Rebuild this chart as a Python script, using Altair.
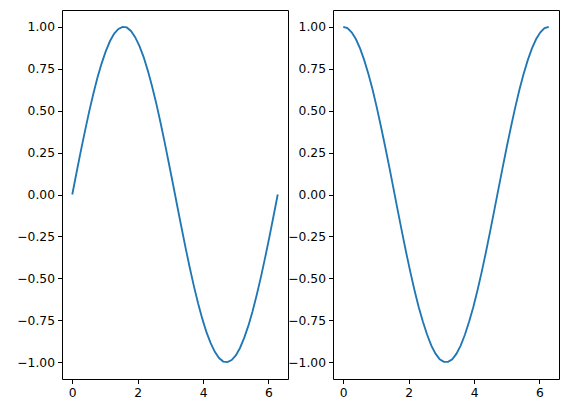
import altair as alt
import pandas as pd

xs = [0.000, 0.128, 0.256, 0.385, 0.513, 0.641, 0.769, 0.898, 1.026, 1.154,
      1.282, 1.411, 1.539, 1.667, 1.795, 1.923, 2.052, 2.180, 2.308, 2.436,
      2.565, 2.693, 2.821, 2.949, 3.078, 3.206, 3.334, 3.462, 3.590, 3.719,
      3.847, 3.975, 4.103, 4.232, 4.360, 4.488, 4.616, 4.744, 4.873, 5.001,
      5.129, 5.257, 5.386, 5.514, 5.642, 5.770, 5.899, 6.027, 6.155, 6.283]
sin_vals = [0.000, 0.128, 0.254, 0.375, 0.491, 0.598, 0.696, 0.782, 0.855, 0.915,
            0.959, 0.987, 0.999, 0.996, 0.975, 0.938, 0.886, 0.821, 0.740, 0.648,
            0.546, 0.434, 0.315, 0.191, 0.064, -0.064, -0.191, -0.315, -0.434, -0.546,
            -0.648, -0.740, -0.821, -0.886, -0.938, -0.975, -0.996, -0.999, -0.987, -0.959,
            -0.915, -0.855, -0.782, -0.696, -0.598, -0.491, -0.375, -0.254, -0.128, 0.000]
cos_vals = [1.000, 0.992, 0.967, 0.927, 0.871, 0.801, 0.718, 0.624, 0.518, 0.404,
            0.285, 0.160, 0.032, -0.096, -0.223, -0.346, -0.463, -0.572, -0.672, -0.759,
            -0.836, -0.901, -0.949, -0.982, -0.998, -0.998, -0.982, -0.949, -0.901, -0.836,
            -0.759, -0.672, -0.572, -0.463, -0.346, -0.223, -0.096, 0.032, 0.160, 0.285,
            0.404, 0.518, 0.624, 0.718, 0.801, 0.871, 0.927, 0.967, 0.992, 1.000]
x_ticks = [0, 2, 4, 6]
y_ticks = [-1.0, -0.75, -0.5, -0.25, 0.0, 0.25, 0.5, 0.75, 1.0]

df = pd.DataFrame({"x": xs, "sin": sin_vals, "cos": cos_vals})

def panel(col):
    return alt.Chart(df).mark_line(color="#1f77b4", strokeWidth=1.85).encode(
        x=alt.X("x:Q", scale=alt.Scale(domain=[-0.314, 6.597], nice=False, zero=False),
                axis=alt.Axis(values=x_ticks, format="d", title=None)),
        y=alt.Y(f"{col}:Q", scale=alt.Scale(domain=[-1.1, 1.1], nice=False, zero=False),
                axis=alt.Axis(values=y_ticks, title=None,
                              labelExpr="replace(format(datum.value, '.2f'), '-', '\u2212')")),
    ).properties(width=226, height=369)

chart = alt.hconcat(panel("sin"), panel("cos"), spacing=45, bounds="flush").properties(
    padding={"left": 8, "top": 1, "right": 0, "bottom": 5}
).configure_view(
    stroke="black", strokeWidth=1
).configure_axis(
    grid=False, domain=False, ticks=True, tickSize=4.5, tickColor="black", tickWidth=1,
    labelColor="black", labelFont="DejaVu Sans", labelFontSize=12.3, labelPadding=3,
).configure_axisX(labelPadding=3)

chart.save("out.html", embed_options={"renderer": "svg", "actions": False})
